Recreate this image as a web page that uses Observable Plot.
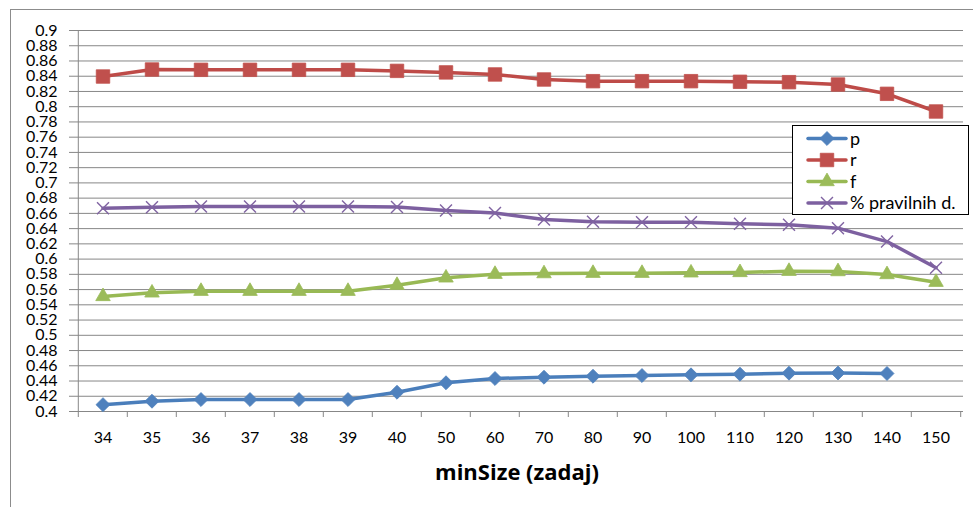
<!DOCTYPE html>
<html>
<head>
<meta charset="utf-8">
<script src="https://cdn.jsdelivr.net/npm/d3@7"></script>
<script src="https://cdn.jsdelivr.net/npm/@observablehq/plot@0.6"></script>
<style>
  html, body { margin: 0; padding: 0; background: #fff; }
  #wrap { position: relative; width: 973px; height: 507px; overflow: hidden; font-family: Lato, "Open Sans", sans-serif; }
  #border { position: absolute; left: 10px; top: 9px; width: 1000px; height: 600px; border-left: 1px solid #8c8c8c; border-top: 1px solid #8c8c8c; }
  #chart { position: absolute; left: 0; top: 0; }
  #xtitle { position: absolute; left: 0; width: 1034px; top: 456px; text-align: center; font-family: "Open Sans", Lato, sans-serif; font-weight: bold; font-size: 22px; color: #000; }
  #legend { position: absolute; left: 792px; top: 125px; width: 175px; height: 88px; border: 1px solid #000; background: #fff; }
</style>
</head>
<body>
<div id="wrap">
  <div id="border"></div>
  <div id="chart"></div>
  <div id="xtitle">minSize (zadaj)</div>
  <div id="legend"></div>
</div>
<script>
const categories = ["34","35","36","37","38","39","40","50","60","70","80","90","100","110","120","130","140","150"];
const pValues   = [0.409,0.4135,0.4157,0.4157,0.4157,0.4157,0.4253,0.4377,0.4433,0.445,0.4463,0.4472,0.4481,0.449,0.4503,0.4505,0.4499,null];
const rValues   = [0.8396,0.8488,0.8484,0.8484,0.8484,0.8484,0.847,0.845,0.8423,0.8357,0.8335,0.8335,0.8335,0.8327,0.8322,0.8291,0.8169,0.7937];
const fValues   = [0.551,0.5557,0.5579,0.5579,0.5579,0.5579,0.5657,0.5754,0.5802,0.581,0.5815,0.5815,0.582,0.5825,0.5841,0.5837,0.5798,0.5697];
const pctValues = [0.6668,0.668,0.669,0.669,0.669,0.669,0.6683,0.6638,0.6605,0.652,0.649,0.6485,0.6485,0.6463,0.645,0.6406,0.623,0.5886];
const seriesNames = ["p", "r", "f", "% pravilnih d."];
const yTicks = [0.4,0.42,0.44,0.46,0.48,0.5,0.52,0.54,0.56,0.58,0.6,0.62,0.64,0.66,0.68,0.7,0.72,0.74,0.76,0.78,0.8,0.82,0.84,0.86,0.88,0.9];

const seriesStyle = [
  {line: "#4A7EBB", fill: "#4F81BD", symbol: "diamond2", r: 6.3},
  {line: "#BE4B48", fill: "#C0504D", symbol: "square", r: 7.6},
  {line: "#98B954", fill: "#9BBB59", symbol: "triangle", r: 5.4},
  {line: "#7D60A0", fill: "#8064A2", symbol: "times", r: 5.5}
];
const allValues = [pValues, rValues, fValues, pctValues];

const W = 973, H = 507, mL = 74, mR = 10, mT = 30, mB = 96;
const bw = (W - mL - mR) / categories.length;
const grid = "#878787";

const marks = [
  Plot.ruleY(yTicks, {stroke: grid, strokeWidth: 1}),
  Plot.ruleX(["34"], {dx: -bw / 2, stroke: grid, strokeWidth: 1}),
  Plot.axisY({ticks: yTicks, tickSize: 5, tickPadding: 12, stroke: grid, fontSize: 16, tickFormat: d => String(d), label: null, color: "#000"}),
  Plot.axisX({ticks: categories, tickSize: 6, tickFormat: () => "", dx: -bw / 2, stroke: grid, label: null}),
  Plot.axisX({ticks: ["150"], tickSize: 6, tickFormat: () => "", dx: bw / 2, stroke: grid, label: null}),
  Plot.axisX({ticks: categories, tickSize: 0, tickPadding: 20, fontSize: 16, label: null})
];

allValues.forEach((vals, si) => {
  const st = seriesStyle[si];
  const data = categories.map((c, i) => ({x: c, y: vals[i], series: seriesNames[si]}));
  marks.push(Plot.line(data, {x: "x", y: "y", stroke: st.line, strokeWidth: 3.5, strokeLinejoin: "round", strokeLinecap: "round"}));
  const pts = data.filter(d => d.y != null);
  if (st.symbol === "times") {
    marks.push(Plot.dot(pts, {x: "x", y: "y", symbol: "times", r: st.r, stroke: st.fill, strokeWidth: 1.4}));
  } else {
    marks.push(Plot.dot(pts, {x: "x", y: "y", symbol: st.symbol, r: st.r, fill: st.fill, stroke: st.fill, strokeWidth: 0.8}));
  }
});

const chart = Plot.plot({
  width: W, height: H,
  marginLeft: mL, marginRight: mR, marginTop: mT, marginBottom: mB,
  x: {type: "band", domain: categories, padding: 0, axis: null},
  y: {domain: [0.4, 0.9], axis: null},
  style: {fontFamily: "Lato, 'Open Sans', sans-serif", background: "transparent", color: "#000"},
  marks
});
document.getElementById("chart").appendChild(chart);

// legend
const lg = d3.select("#legend").append("svg").attr("width", 175).attr("height", 88);
const symMap = {diamond2: d3.symbolDiamond2, square: d3.symbolSquare, triangle: d3.symbolTriangle, times: d3.symbolTimes};
seriesNames.forEach((name, i) => {
  const st = seriesStyle[i];
  const y = 12.5 + i * 21.5;
  lg.append("line").attr("x1", 15).attr("x2", 53).attr("y1", y).attr("y2", y)
    .attr("stroke", st.line).attr("stroke-width", 3.5).attr("stroke-linecap", "round");
  const size = Math.PI * st.r * st.r;
  const p = lg.append("path").attr("d", d3.symbol(symMap[st.symbol], size)()).attr("transform", `translate(34,${y})`);
  if (st.symbol === "times") p.attr("fill", "none").attr("stroke", st.fill).attr("stroke-width", 1.4);
  else p.attr("fill", st.fill).attr("stroke", st.fill).attr("stroke-width", 0.8);
  lg.append("text").attr("x", 57).attr("y", y).attr("dy", "0.35em").attr("font-size", 18)
    .attr("font-family", "Lato, 'Open Sans', sans-serif").attr("fill", "#000").text(name);
});
</script>
</body>
</html>
